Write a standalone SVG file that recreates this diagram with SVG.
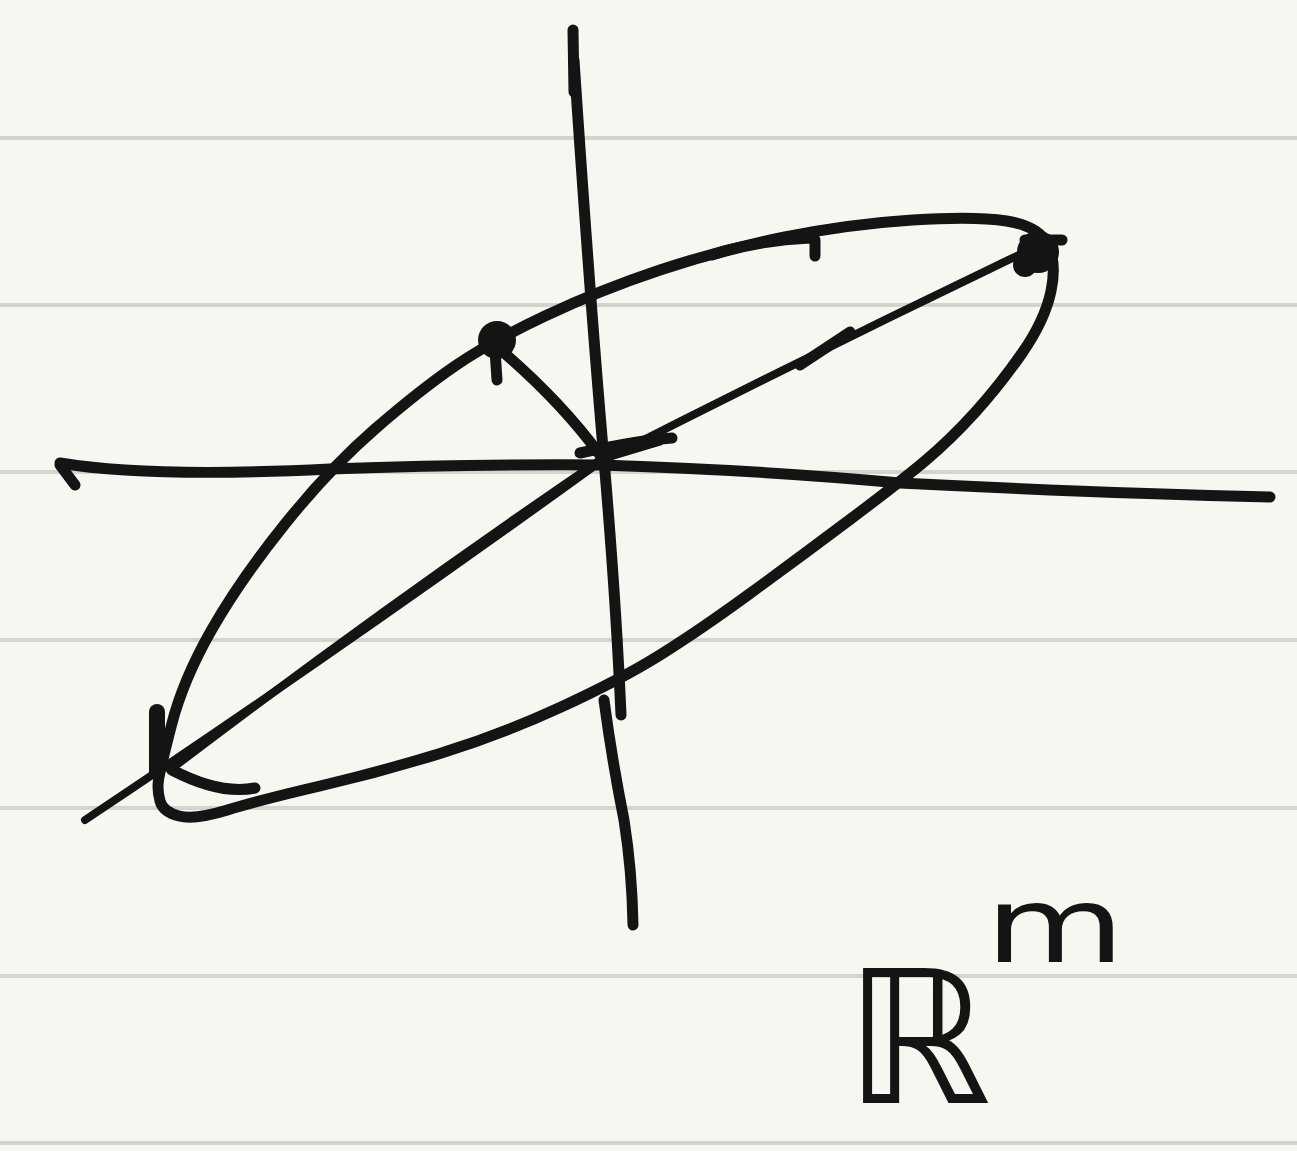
<svg xmlns="http://www.w3.org/2000/svg" width="1297" height="1151" viewBox="0 0 1297 1151">
<style>
.rule{stroke:#d4d4cf;stroke-width:4}
.ink{fill:none;stroke:#141414;stroke-width:11;stroke-linecap:round;stroke-linejoin:round}
.thin{stroke-width:8}
.lbl{font-family:"DejaVu Sans",sans-serif;fill:#141414}
</style>
<rect width="1297" height="1151" fill="#f7f7f2"/>
<g id="rules">
<line class="rule" x1="0" y1="138" x2="1297" y2="138"/>
<line class="rule" x1="0" y1="305" x2="1297" y2="305"/>
<line class="rule" x1="0" y1="472" x2="1297" y2="472"/>
<line class="rule" x1="0" y1="640" x2="1297" y2="640"/>
<line class="rule" x1="0" y1="808" x2="1297" y2="808"/>
<line class="rule" x1="0" y1="976" x2="1297" y2="976"/>
<line class="rule" x1="0" y1="1143" x2="1297" y2="1143"/>
</g>
<g id="axes">
<path class="ink" d="M573,30 L574,92 M574,60 Q590,300 604,460 Q616,600 621,715"/>
<path class="ink" d="M604,700 Q612,760 624,820 Q632,870 633,925"/>
<path class="ink" d="M60,465 L75,485 M60,463 Q150,478 330,469 Q480,464 600,465 Q760,470 900,483 Q1100,493 1270,497"/>
</g>
<g id="ellipse">
<path class="ink" d="M171.5,725 Q183,680 211.5,630 Q240,580 285,524 Q330,468 375,429 Q420,390 455,366 Q490,342 545,316 Q600,290 660,270 Q720,250 785,237 Q850,224 912.5,220 Q975,216 1006.5,221 Q1038,226 1047.5,244 Q1057,262 1051,291 Q1045,320 1022.5,352.5 Q1000,385 975,412.5 Q950,440 925,461 Q900,482 850,519.5 Q800,557 750,593.5 Q700,630 660,655 Q620,680 560,707.5 Q500,735 440,753.5 Q380,772 320,786 Q260,800 227.5,810 Q195,820 179,816 Q163,812 160,801 Q157,790 158.5,780 Q160,770 171.5,725"/>
</g>
<g id="diagonal">
<path class="ink thin" d="M85,820 Q340,650 600,462 Q820,350 1050,240"/>
<path class="ink thin" d="M170,770 Q380,610 600,460"/>
<path class="ink" d="M580,453 Q640,440 672,438 M610,455 L660,440"/>
<path class="ink" d="M495,345 Q560,400 600,455"/>
</g>
<g id="marks">
<circle cx="497" cy="340" r="19" fill="#141414"/>
<path class="ink" d="M495,350 L497,380"/>
<circle cx="1038" cy="252" r="21" fill="#141414"/>
<circle cx="1025" cy="265" r="12" fill="#141414"/>
<path class="ink" d="M1025,240 L1062,240"/>
<path class="ink" d="M157,712 L157,772" style="stroke-width:16"/>
<path class="ink" d="M172,770 Q220,795 255,788"/>
<path class="ink" d="M712,255 Q760,240 810,238 M815,240 L815,256"/>
<path class="ink" d="M800,365 L850,332"/>
</g>
<g id="label">
<text class="lbl" x="845" y="1103" font-size="185">ℝ</text>
<text class="lbl" x="985" y="962" font-size="105" textLength="140" lengthAdjust="spacingAndGlyphs">m</text>
</g>
</svg>
